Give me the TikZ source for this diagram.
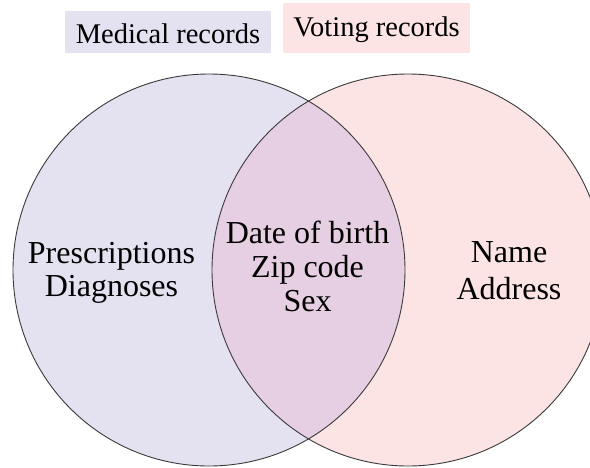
\documentclass[tikz,border=0pt]{standalone}
\usepackage{fontspec}
\setmainfont{Liberation Serif}
\newfontfamily\labelserif{Liberation Serif}
\definecolor{medfill}{HTML}{E4E2F0}
\definecolor{votefill}{HTML}{FCE4E5}
\definecolor{bothfill}{HTML}{E6CFE2}
\definecolor{rim}{HTML}{3A3A3A}
\tikzset{
  titletext/.style={anchor=base, inner sep=0pt, font=\labelserif\fontsize{28.5}{34}\selectfont},
  fieldtext/.style={anchor=base, inner sep=0pt, font=\labelserif\fontsize{32}{38}\selectfont},
  rimline/.style={draw=rim, line width=0.9pt}
}
\begin{document}
\begin{tikzpicture}[x=1pt,y=-1pt]
  \useasboundingbox (0,0) rectangle (590,467);
  \begin{scope}
    \clip (0,0) rectangle (590,467);
    % the two record sets
    \fill[medfill] (209,270) circle[radius=196];
    \fill[votefill] (408,270) circle[radius=196];
    % shared fields
    \begin{scope}
      \clip (209,270) circle[radius=196];
      \fill[bothfill] (408,270) circle[radius=196];
    \end{scope}
    \draw[rimline] (209,270) circle[radius=196];
    \draw[rimline] (408,270) circle[radius=196];
  \end{scope}
  % headings
  \fill[medfill] (65,11) rectangle (271,53);
  \fill[votefill] (283,3) rectangle (470,53);
  \node[titletext] (medtitle) at (168,43.5) {Medical records};
  \node[titletext] (votetitle) at (376.5,36) {Voting records};
  % medical only
  \node[fieldtext] (presc) at (111.5,263) {Prescriptions};
  \node[fieldtext] (diag) at (111.5,296) {Diagnoses};
  % both
  \node[fieldtext] (dob) at (307.5,243) {Date of birth};
  \node[fieldtext] (zip) at (307.5,277) {Zip code};
  \node[fieldtext] (sex) at (307.5,311.5) {Sex};
  % voting only
  \node[fieldtext] (name) at (509,262) {Name};
  \node[fieldtext] (addr) at (509,299) {Address};
\end{tikzpicture}
\end{document}
